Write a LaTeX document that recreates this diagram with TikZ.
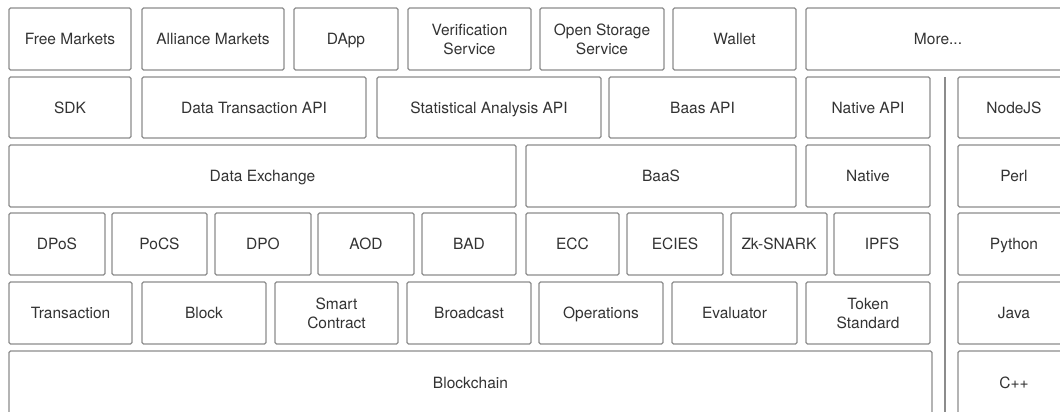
\documentclass[tikz,border=0pt]{standalone}
\usepackage{fontspec}
\setmainfont{TeX Gyre Heros}
\newcommand{\lbox}[7][]{\node[box,#1,minimum width={(#5-#3)*1pt},minimum height={(#6-#4)*1pt}] (#2) at ({(#3+#5)/2},{(#4+#6)/2}) {#7};}
\begin{document}
\begin{tikzpicture}[x=1pt,y=-1pt,
  box/.style={draw=black!45,line width=1.3pt,rounded corners=1.5pt,fill=white,
    inner sep=0pt,outer sep=0pt,align=center,text=black!80,
    text height=11pt,text depth=0pt,
    font=\fontsize{15.5}{19}\selectfont},
  twoline/.style={text height={},text depth={}},
  sep/.style={draw=black!45,line width=2.6pt}]
\useasboundingbox (0,0) rectangle (1060,412);
\clip (0,0) rectangle (1060,412);
\fill[white] (0,0) rectangle (1060,412);
% row 1
\lbox{fm}{9}{8}{131}{70}{Free Markets}
\lbox{am}{142}{8}{284}{70}{Alliance Markets}
\lbox{dapp}{294}{8}{398}{70}{DApp}
\lbox[twoline]{vs}{408}{8}{531}{70}{Verification\\Service}
\lbox[twoline]{oss}{540}{8}{664}{70}{Open Storage\\Service}
\lbox{wal}{673}{8}{796}{70}{Wallet}
\lbox{more}{806}{8}{1070}{70}{More...}
% row 2
\lbox{sdk}{9}{77}{131}{138}{SDK}
\lbox{dta}{142}{77}{366}{138}{Data Transaction API}
\lbox{saa}{377}{77}{601}{138}{Statistical Analysis API}
\lbox{baasapi}{609}{77}{796}{138}{Baas API}
\lbox{napi}{806}{77}{930}{138}{Native API}
\lbox{node}{958}{77}{1070}{138}{NodeJS}
% row 3
\lbox{dex}{9}{145}{516}{207}{Data Exchange}
\lbox{baas}{526}{145}{796}{207}{BaaS}
\lbox{nat}{806}{145}{930}{207}{Native}
\lbox{perl}{958}{145}{1070}{207}{Perl}
% row 4
\lbox{dpos}{9}{213}{105}{275}{DPoS}
\lbox{pocs}{112}{213}{207}{275}{PoCS}
\lbox{dpo}{215}{213}{311}{275}{DPO}
\lbox{aod}{318}{213}{414}{275}{AOD}
\lbox{bad}{422}{213}{516}{275}{BAD}
\lbox{ecc}{526}{213}{619}{275}{ECC}
\lbox{ecies}{627}{213}{723}{275}{ECIES}
\lbox{zk}{731}{213}{827}{275}{Zk-SNARK}
\lbox{ipfs}{834}{213}{930}{275}{IPFS}
\lbox{py}{958}{213}{1070}{275}{Python}
% row 5
\lbox{tx}{9}{282}{132}{344}{Transaction}
\lbox{blk}{142}{282}{266}{344}{Block}
\lbox[twoline]{sc}{275}{282}{398}{344}{Smart\\Contract}
\lbox{bc}{407}{282}{531}{344}{Broadcast}
\lbox{ops}{539}{282}{663}{344}{Operations}
\lbox{ev}{672}{282}{797}{344}{Evaluator}
\lbox[twoline]{tok}{806}{282}{930}{344}{Token\\Standard}
\lbox{java}{958}{282}{1070}{344}{Java}
% row 6
\lbox{chain}{9}{351}{932}{415}{Blockchain}
\lbox{cpp}{958}{351}{1070}{415}{C++}
% separator
\coordinate (st) at (945,77);
\coordinate (sb) at (945,420);
\draw[sep] (st) -- (sb);
\end{tikzpicture}
\end{document}
